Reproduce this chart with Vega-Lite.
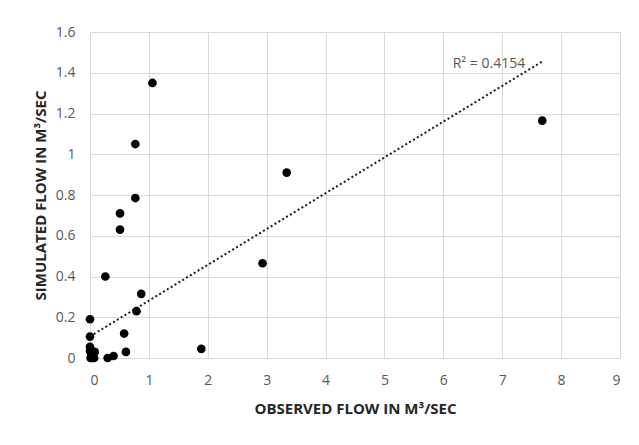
{
  "$schema": "https://vega.github.io/schema/vega-lite/v6.json",
  "width": 530,
  "height": 326,
  "autosize": {"type": "none"},
  "padding": {"left": 90, "top": 32, "right": 19, "bottom": 87},
  "background": "white",
  "config": {
    "view": {"stroke": null},
    "font": "Open Sans",
    "axis": {
      "gridColor": "#d9d9d9",
      "gridWidth": 1,
      "domain": false,
      "ticks": false,
      "labelFont": "Open Sans",
      "labelFontSize": 14,
      "labelColor": "#595959",
      "titleFont": "Open Sans",
      "titleFontSize": 15,
      "titleFontWeight": "bold",
      "titleColor": "#262626"
    }
  },
  "datasets": {
    "points": [
      {"observed": 1.06, "simulated": 1.35},
      {"observed": 0.77, "simulated": 1.05},
      {"observed": 0.77, "simulated": 0.785},
      {"observed": 0.51, "simulated": 0.71},
      {"observed": 0.51, "simulated": 0.63},
      {"observed": 0.26, "simulated": 0.4},
      {"observed": 0.87, "simulated": 0.315},
      {"observed": 0.79, "simulated": 0.23},
      {"observed": 0.58, "simulated": 0.12},
      {"observed": 0.61, "simulated": 0.03},
      {"observed": 0.0, "simulated": 0.19},
      {"observed": 0.0, "simulated": 0.105},
      {"observed": 0.0, "simulated": 0.055},
      {"observed": 0.0, "simulated": 0.035},
      {"observed": 0.02, "simulated": 0.015},
      {"observed": 0.05, "simulated": 0.005},
      {"observed": 0.08, "simulated": 0.03},
      {"observed": 0.07, "simulated": 0.0},
      {"observed": 0.03, "simulated": 0.0},
      {"observed": 0.01, "simulated": 0.0},
      {"observed": 0.3, "simulated": 0.0},
      {"observed": 0.4, "simulated": 0.01},
      {"observed": 1.89, "simulated": 0.045},
      {"observed": 2.93, "simulated": 0.465},
      {"observed": 3.34, "simulated": 0.91},
      {"observed": 7.68, "simulated": 1.165}
    ],
    "trend": [
      {"observed": 0.0, "simulated": 0.106},
      {"observed": 7.68, "simulated": 1.455}
    ],
    "label": [
      {"observed": 7.39, "simulated": 1.445, "text": "R² = 0.4154"}
    ]
  },
  "encoding": {
    "x": {
      "field": "observed",
      "type": "quantitative",
      "scale": {"domain": [0, 9], "nice": false},
      "axis": {"values": [0,1,2,3,4,5,6,7,8,9], "format": "~g", "labelPadding": 15, "title": "OBSERVED FLOW IN M³/SEC", "titlePadding": 14}
    },
    "y": {
      "field": "simulated",
      "type": "quantitative",
      "scale": {"domain": [0, 1.6], "nice": false},
      "axis": {"values": [0,0.2,0.4,0.6,0.8,1,1.2,1.4,1.6], "format": "~g", "labelPadding": 15, "title": "SIMULATED FLOW IN M³/SEC", "titlePadding": 7}
    }
  },
  "layer": [
    {
      "data": {"name": "trend"},
      "mark": {"type": "line", "color": "#1a1a1a", "strokeWidth": 2, "strokeDash": [2, 2.5]}
    },
    {
      "data": {"name": "points"},
      "mark": {"type": "point", "filled": true, "color": "black", "opacity": 1, "size": 75}
    },
    {
      "data": {"name": "label"},
      "mark": {"type": "text", "align": "right", "baseline": "middle", "fontSize": 14, "color": "#595959", "font": "Open Sans"},
      "encoding": {"text": {"field": "text"}}
    }
  ]
}
